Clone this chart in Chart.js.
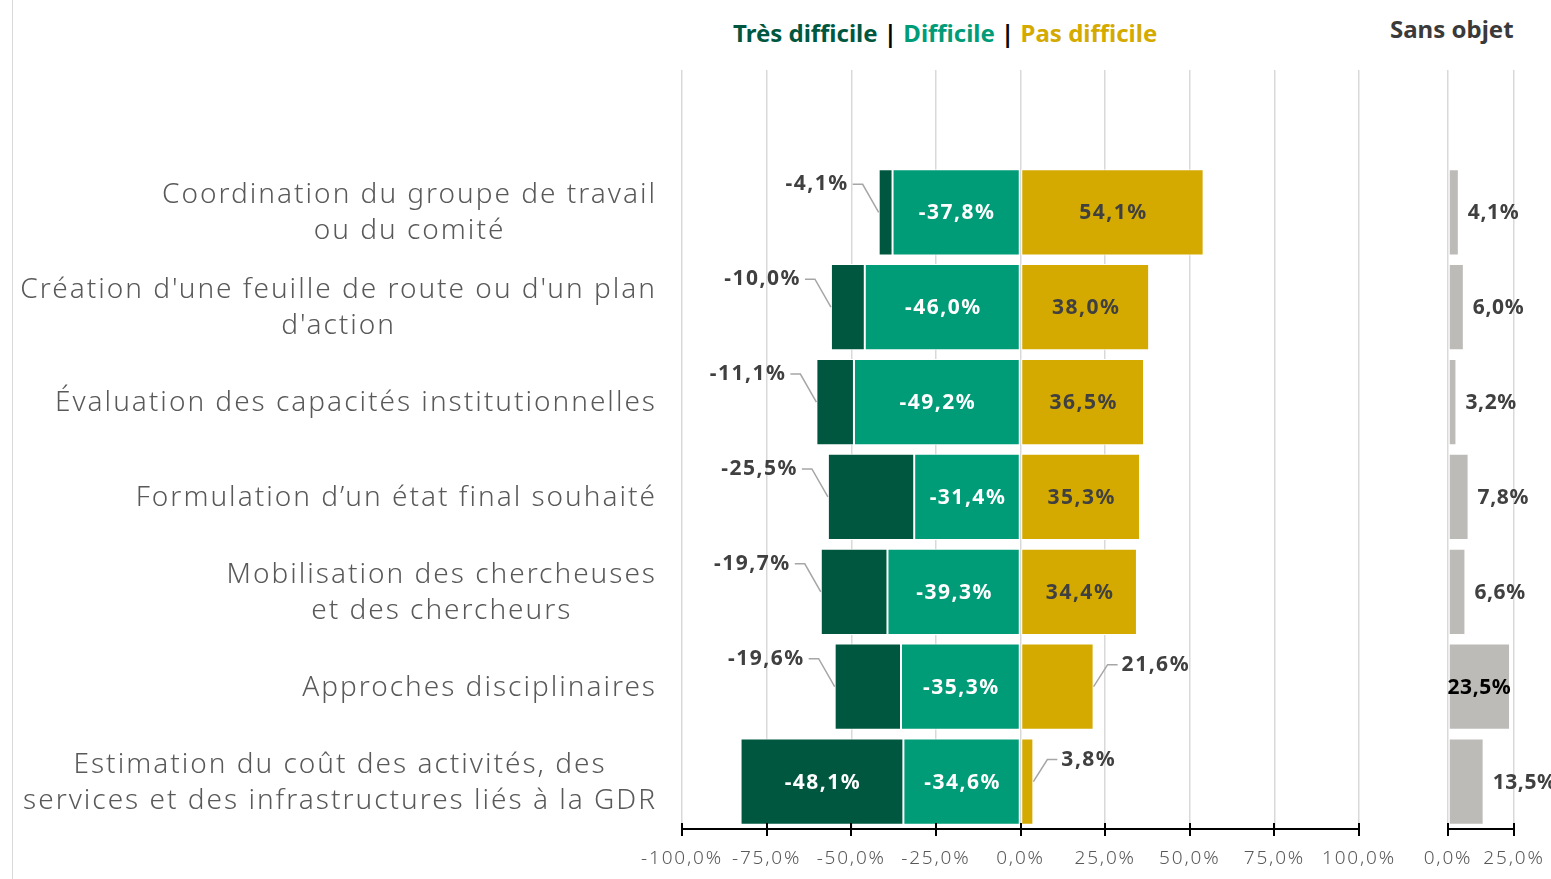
<!DOCTYPE html>
<html lang="fr">
<head>
<meta charset="UTF-8">
<title>Difficultés</title>
<script src="https://cdn.jsdelivr.net/npm/chart.js"></script>
<style>
    body { margin: 0; background: #fff; font-family: "Noto Sans", sans-serif; }
    #wrap { position: relative; width: 1551px; height: 879px; overflow: hidden; }
    #frame { position: absolute; left: 12px; top: 0; width: 1px; height: 879px; background: #D9D9D9; }
    #main { position: absolute; left: 0; top: 0; }
    #side { position: absolute; left: 1400px; top: 0; }
    .legend { position: absolute; top: 16px; left: 733px; font-weight: 700; font-size: 24px; white-space: nowrap; }
    .sans { position: absolute; top: 12px; left: 1390px; font-weight: 700; font-size: 24px; color: #3a3a3a; }
</style>
</head>
<body>
<div id="wrap">
    <div id="frame"></div>
    <div class="legend">
        <span style="color:#00573F">Très difficile</span> <span style="color:#000">|</span>
        <span style="color:#009B77">Difficile</span> <span style="color:#000">|</span>
        <span style="color:#D4AA00">Pas difficile</span>
    </div>
    <div class="sans">Sans objet</div>
    <canvas id="main" width="1400" height="879"></canvas>
    <canvas id="side" width="151" height="879"></canvas>
</div>
<script>
    // first category left empty: the original chart keeps a blank row at the top
    const categories = [
        [''],
        ['Coordination du groupe de travail', 'ou du comité'],
        ['Création d\'une feuille de route ou d\'un plan', 'd\'action'],
        ['Évaluation des capacités institutionnelles'],
        ['Formulation d’un état final souhaité'],
        ['Mobilisation des chercheuses', 'et des chercheurs'],
        ['Approches disciplinaires'],
        ['Estimation du coût des activités, des', 'services et des infrastructures liés à la GDR']
    ];
    const tresDifficile = [null, -4.1, -10.0, -11.1, -25.5, -19.7, -19.6, -48.1];
    const difficile = [null, -37.8, -46.0, -49.2, -31.4, -39.3, -35.3, -34.6];
    const pasDifficile = [null, 54.1, 38.0, 36.5, 35.3, 34.4, 21.6, 3.8];
    const sansObjet = [null, 4.1, 6.0, 3.2, 7.8, 6.6, 23.5, 13.5];
    const mainTicks = [-100, -75, -50, -25, 0, 25, 50, 75, 100];
    const sideTicks = [0, 25];

    const FONT = '"Noto Sans", sans-serif';
    const GREY_TXT = '#404040';

    function fmt(v) {
        return v.toFixed(1).replace('.', ',') + '%';
    }

    // wider spacing, the original font runs wide
    const spacing = {
        id: 'spacing',
        beforeDraw(chart) { chart.ctx.letterSpacing = '1.8px'; },
        afterDraw(chart) { chart.ctx.letterSpacing = '0px'; }
    };

    // category labels: each block centred on itself, right edge at 655px
    const catLabels = {
        id: 'catLabels',
        afterDraw(chart) {
            const ctx = chart.ctx;
            const y = chart.scales.y;
            ctx.save();
            ctx.font = '300 28px ' + FONT;
            ctx.letterSpacing = '2px';
            ctx.fillStyle = '#595959';
            ctx.textAlign = 'center';
            ctx.textBaseline = 'middle';
            categories.forEach(function (lines, i) {
                const w = Math.max.apply(null, lines.map(function (l) { return ctx.measureText(l).width; }));
                const cx = 657 - w / 2;
                const cy = y.getPixelForTick(i) + 1;
                const lh = 36;
                lines.forEach(function (l, k) {
                    ctx.fillText(l, cx, cy + (k - (lines.length - 1) / 2) * lh);
                });
            });
            ctx.restore();
        }
    };

    // tick marks crossing the bottom axis
    const crossTicks = {
        id: 'crossTicks',
        afterDraw(chart) {
            const ctx = chart.ctx;
            const x = chart.scales.x;
            const b = chart.chartArea.bottom;
            ctx.save();
            ctx.strokeStyle = '#000';
            ctx.lineWidth = 2;
            x.ticks.forEach(function (t) {
                const px = Math.round(x.getPixelForValue(t.value));
                ctx.beginPath();
                ctx.moveTo(px, b - 6);
                ctx.lineTo(px, b + 7);
                ctx.stroke();
            });
            ctx.beginPath();
            ctx.moveTo(x.left - 1, b);
            ctx.lineTo(x.right + 1, b);
            ctx.stroke();
            ctx.restore();
        }
    };

    // value labels, inside the bar or outside with a leader line
    const valueLabels = {
        id: 'valueLabels',
        afterDatasetsDraw(chart) {
            const ctx = chart.ctx;
            ctx.save();
            ctx.font = '700 21px ' + FONT;
            ctx.letterSpacing = '1.5px';
            ctx.textBaseline = 'middle';
            chart.data.datasets.forEach(function (ds, di) {
                const meta = chart.getDatasetMeta(di);
                meta.data.forEach(function (bar, i) {
                    const v = ds.data[i];
                    if (v == null) return;
                    const txt = fmt(v);
                    const left = Math.min(bar.x, bar.base);
                    const right = Math.max(bar.x, bar.base);
                    const cy = bar.y;
                    if (Math.abs(v) >= ds.insideMin) {
                        ctx.fillStyle = ds.insideColor;
                        ctx.textAlign = 'center';
                        ctx.fillText(txt, (left + right) / 2 + 1, cy + 1);
                        return;
                    }
                    ctx.strokeStyle = '#A6A6A6';
                    ctx.lineWidth = 1.5;
                    ctx.fillStyle = GREY_TXT;
                    if (v < 0) {
                        const lx = left - 30;
                        const ly = cy - 28;
                        ctx.beginPath();
                        ctx.moveTo(lx + 4, ly);
                        ctx.lineTo(lx + 14, ly);
                        ctx.lineTo(left, cy);
                        ctx.stroke();
                        ctx.textAlign = 'right';
                        ctx.fillText(txt, lx, ly);
                    } else {
                        const lx = right + 28;
                        const ly = cy - 22;
                        ctx.beginPath();
                        ctx.moveTo(right, cy);
                        ctx.lineTo(right + 14, ly);
                        ctx.lineTo(lx - 4, ly);
                        ctx.stroke();
                        ctx.textAlign = 'left';
                        ctx.fillText(txt, lx, ly);
                    }
                });
            });
            ctx.restore();
        }
    };

    const sideLabels = {
        id: 'sideLabels',
        afterDatasetsDraw(chart) {
            const ctx = chart.ctx;
            ctx.save();
            ctx.font = '700 21px ' + FONT;
            ctx.letterSpacing = '0.6px';
            ctx.textBaseline = 'middle';
            const meta = chart.getDatasetMeta(0);
            meta.data.forEach(function (bar, i) {
                const v = sansObjet[i];
                if (v == null) return;
                if (v >= 20) {
                    ctx.fillStyle = '#000';
                    ctx.textAlign = 'center';
                    ctx.fillText(fmt(v), (bar.x + bar.base) / 2, bar.y + 1);
                } else {
                    ctx.fillStyle = GREY_TXT;
                    ctx.textAlign = 'left';
                    ctx.fillText(fmt(v), bar.x + 9, bar.y + 1);
                }
            });
            ctx.restore();
        }
    };

    const tickStyle = {
        color: '#595959',
        font: { size: 19, family: FONT, weight: 300 },
        padding: 18,
        callback: function (v) { return fmt(v); }
    };

    // keep the plot area where the layout padding puts it
    function fixX(s) {
        s.height = 50;
        s.paddingLeft = 0;
        s.paddingRight = 0;
    }

    new Chart(document.getElementById('main'), {
        type: 'bar',
        data: {
            labels: categories.map(function (c) { return c.join(' '); }),
            datasets: [
                { label: 'Difficile', data: difficile, backgroundColor: '#009B77', insideMin: 0, insideColor: '#fff' },
                { label: 'Très difficile', data: tresDifficile, backgroundColor: '#00573F', insideMin: 30, insideColor: '#fff' },
                { label: 'Pas difficile', data: pasDifficile, backgroundColor: '#D4AA00', insideMin: 30, insideColor: GREY_TXT }
            ]
        },
        options: {
            indexAxis: 'y',
            responsive: false,
            animation: false,
            datasets: {
                bar: { barPercentage: 0.91, categoryPercentage: 1, borderColor: '#fff', borderWidth: 1, borderSkipped: false }
            },
            layout: { padding: { top: 70, right: 41, left: 0, bottom: 0 } },
            plugins: { legend: { display: false }, tooltip: { enabled: false } },
            scales: {
                x: {
                    stacked: true,
                    min: -100,
                    max: 100,
                    afterBuildTicks: function (s) { s.ticks = mainTicks.map(function (v) { return { value: v }; }); },
                    ticks: tickStyle,
                    grid: { color: '#D9D9D9', lineWidth: 1.5, drawTicks: false },
                    border: { display: false },
                    afterFit: fixX
                },
                y: {
                    stacked: true,
                    ticks: { display: false },
                    grid: { display: false },
                    border: { display: false },
                    afterFit: function (s) { s.width = 682; }
                }
            }
        },
        plugins: [spacing, catLabels, crossTicks, valueLabels]
    });

    new Chart(document.getElementById('side'), {
        type: 'bar',
        data: {
            labels: categories.map(function (c) { return c.join(' '); }),
            datasets: [
                { label: 'Sans objet', data: sansObjet, backgroundColor: '#BDBBB7', borderColor: '#fff', borderWidth: 1, borderSkipped: false }
            ]
        },
        options: {
            indexAxis: 'y',
            responsive: false,
            animation: false,
            datasets: { bar: { barPercentage: 0.91, categoryPercentage: 1 } },
            layout: { padding: { top: 70, right: 37, left: 48, bottom: 0 } },
            plugins: { legend: { display: false }, tooltip: { enabled: false } },
            scales: {
                x: {
                    min: 0,
                    max: 25,
                    afterBuildTicks: function (s) { s.ticks = sideTicks.map(function (v) { return { value: v }; }); },
                    ticks: tickStyle,
                    grid: { color: '#D9D9D9', lineWidth: 1.5, drawTicks: false },
                    border: { display: false },
                    afterFit: fixX
                },
                y: { display: false }
            }
        },
        plugins: [spacing, crossTicks, sideLabels]
    });
</script>
</body>
</html>
